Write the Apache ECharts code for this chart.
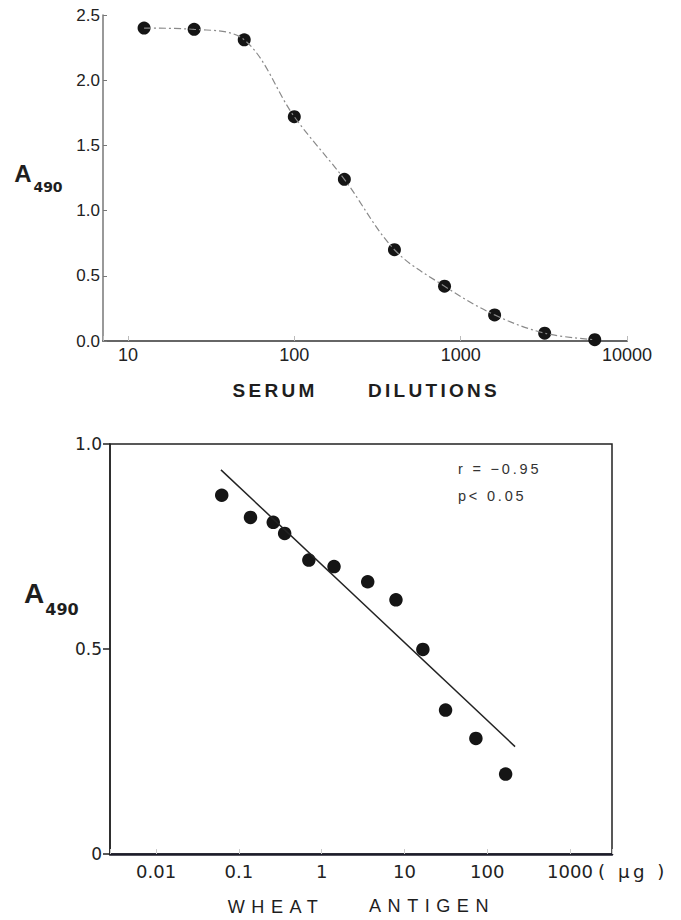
<!DOCTYPE html>
<html>
<head>
  <meta charset="utf-8">
  <title>A490</title>
  <script src="https://cdn.jsdelivr.net/npm/echarts@6/dist/echarts.min.js"></script>
  <style>
    html, body { margin: 0; padding: 0; background: #fff; }
    /* spaced-out axis captions (svg text) */
    #main text[style*="19px"] { letter-spacing: 3.3px; }
    #main text[style*="18.1px"] { letter-spacing: 6.5px; }
    #main text[style*="14.5px"] { letter-spacing: 2.8px; }
    #main text[style*="18.2px"] { letter-spacing: 3.5px; }
  </style>
</head>
<body>
  <div id="main" style="width:681px;height:920px;"></div>
  <script type="text/javascript">
    // top panel: serum dilution curve
    var serumDilution = [12.5, 25, 50, 100, 200, 400, 800, 1600, 3200, 6400];
    var serumA490 = [2.40, 2.39, 2.31, 1.72, 1.24, 0.70, 0.42, 0.20, 0.06, 0.01];
    var serumXLabels = ['10', '100', '1000', '10000'];      // 10^1 .. 10^4
    var serumYLabels = ['0.0', '0.5', '1.0', '1.5', '2.0', '2.5'];

    // bottom panel: wheat antigen inhibition
    var wheatAntigen = [0.062, 0.138, 0.26, 0.357, 0.70, 1.41, 3.6, 7.9, 16.7, 31.4, 73, 167];
    var wheatA490 = [0.875, 0.821, 0.809, 0.782, 0.717, 0.701, 0.664, 0.620, 0.499, 0.351, 0.282, 0.195];
    var fitAntigen = [0.0607, 217];
    var fitA490 = [0.937, 0.262];
    var wheatXLabels = ['0.01', '0.1', '1', '10', '100', '1000']; // 10^-2 .. 10^3
    var wheatYLabels = ['0', '0.5', '1.0'];

    function pairs(xs, ys) {
      return xs.map(function (x, i) { return [x, ys[i]]; });
    }
    function logLabel(labels, firstExp) {
      return function (v) {
        var e = Math.log10(v), r = Math.round(e);
        if (Math.abs(e - r) > 1e-6) return '';
        return labels[r - firstExp] || '';
      };
    }
    function stepLabel(labels, step) {
      return function (v) { return labels[Math.round(v / step)] || ''; };
    }
    function txt(s, x, y, size, family, opt) {
      opt = opt || {};
      return {
        type: 'text', x: x, y: y, silent: true,
        style: {
          text: s, fontSize: size, fontFamily: family,
          fontWeight: opt.weight || 'normal', fill: opt.fill || '#1e1e1e',
          align: opt.align || 'center', textAlign: opt.align || 'center',
          verticalAlign: 'middle', textVerticalAlign: 'middle'
        }
      };
    }

    var myChart = echarts.init(document.getElementById('main'), null, { renderer: 'svg' });

    var option = {
      animation: false,
      backgroundColor: '#fff',
      grid: [
        { left: 103, top: 15, right: 54, bottom: 579 },
        { left: 110, top: 444, right: 69, bottom: 66, show: true, borderColor: '#222', borderWidth: 1.5 }
      ],
      xAxis: [
        {
          gridIndex: 0, type: 'log', logBase: 10, min: 7.08, max: 10000,
          axisLine: { lineStyle: { color: '#666', width: 2 } },
          axisTick: { inside: true, length: 5, lineStyle: { color: '#bbb' } },
          axisLabel: { formatter: logLabel(serumXLabels, 1), color: '#222', fontSize: 18,
                       fontFamily: 'Liberation Sans', margin: 5 },
          splitLine: { show: false }, minorTick: { show: false }
        },
        {
          gridIndex: 1, type: 'log', logBase: 10, min: 0.00277, max: 3220,
          axisLine: { lineStyle: { color: '#1c1c2a', width: 2.5 } },
          axisTick: { inside: true, length: 5, lineStyle: { color: '#ccc' } },
          axisLabel: { formatter: logLabel(wheatXLabels, -2), color: '#222', fontSize: 18,
                       fontFamily: 'DejaVu Sans', margin: 8 },
          splitLine: { show: false }, minorTick: { show: false }
        }
      ],
      yAxis: [
        {
          gridIndex: 0, type: 'value', min: 0, max: 2.5, interval: 0.5,
          axisLine: { show: true, lineStyle: { color: '#777', width: 1.5 } },
          axisTick: { show: true, inside: true, length: 4, lineStyle: { color: '#777' } },
          axisLabel: { formatter: stepLabel(serumYLabels, 0.5), color: '#222', fontSize: 17,
                       fontFamily: 'Liberation Sans', margin: 3 },
          splitLine: { show: false }
        },
        {
          gridIndex: 1, type: 'value', min: 0, max: 1, interval: 0.5,
          axisLine: { show: true, lineStyle: { color: '#222', width: 1.5 } },
          axisTick: { show: true, length: 7, lineStyle: { color: '#222', width: 1.5 } },
          axisLabel: { formatter: stepLabel(wheatYLabels, 0.5), color: '#222', fontSize: 17,
                       fontFamily: 'DejaVu Sans', margin: 8 },
          splitLine: { show: false }
        }
      ],
      series: [
        {
          type: 'line', xAxisIndex: 0, yAxisIndex: 0,
          data: pairs(serumDilution, serumA490),
          smooth: 0.35, showSymbol: false, silent: true,
          lineStyle: { color: '#8a8a8a', width: 1.2, type: [7, 3, 2, 3] }
        },
        {
          type: 'scatter', xAxisIndex: 0, yAxisIndex: 0,
          data: pairs(serumDilution, serumA490),
          symbolSize: 13, itemStyle: { color: '#151515', opacity: 1 }
        },
        {
          type: 'line', xAxisIndex: 1, yAxisIndex: 1,
          data: pairs(fitAntigen, fitA490),
          showSymbol: false, silent: true,
          lineStyle: { color: '#222', width: 1.5 }
        },
        {
          type: 'scatter', xAxisIndex: 1, yAxisIndex: 1,
          data: pairs(wheatAntigen, wheatA490),
          symbolSize: 13.5, itemStyle: { color: '#151515', opacity: 1 }
        }
      ],
      graphic: {
        elements: [
          txt('A', 23, 173, 24, 'Liberation Sans', { weight: 'bold' }),
          txt('490', 48, 187, 14, 'DejaVu Sans', { weight: 'bold' }),
          txt('A', 34, 593, 28, 'Liberation Sans', { weight: 'bold' }),
          txt('490', 62, 609, 16, 'DejaVu Sans', { weight: 'bold' }),
          txt('SERUM', 275, 390, 19, 'Liberation Sans', { weight: 'bold' }),
          txt('DILUTIONS', 434, 390, 19, 'Liberation Sans', { weight: 'bold' }),
          txt('WHEAT', 276, 907, 18.1, 'Liberation Sans'),
          txt('ANTIGEN', 432, 906, 18.1, 'Liberation Sans'),
          txt('r = \u22120.95', 458, 469, 14.5, 'Liberation Sans', { align: 'left', fill: '#333' }),
          txt('p< 0.05', 458, 496, 14.5, 'Liberation Sans', { align: 'left', fill: '#333' }),
          txt('( \u03bcg )', 598, 871, 18.2, 'DejaVu Sans', { align: 'left' })
        ]
      }
    };
    myChart.setOption(option);
  </script>
</body>
</html>
